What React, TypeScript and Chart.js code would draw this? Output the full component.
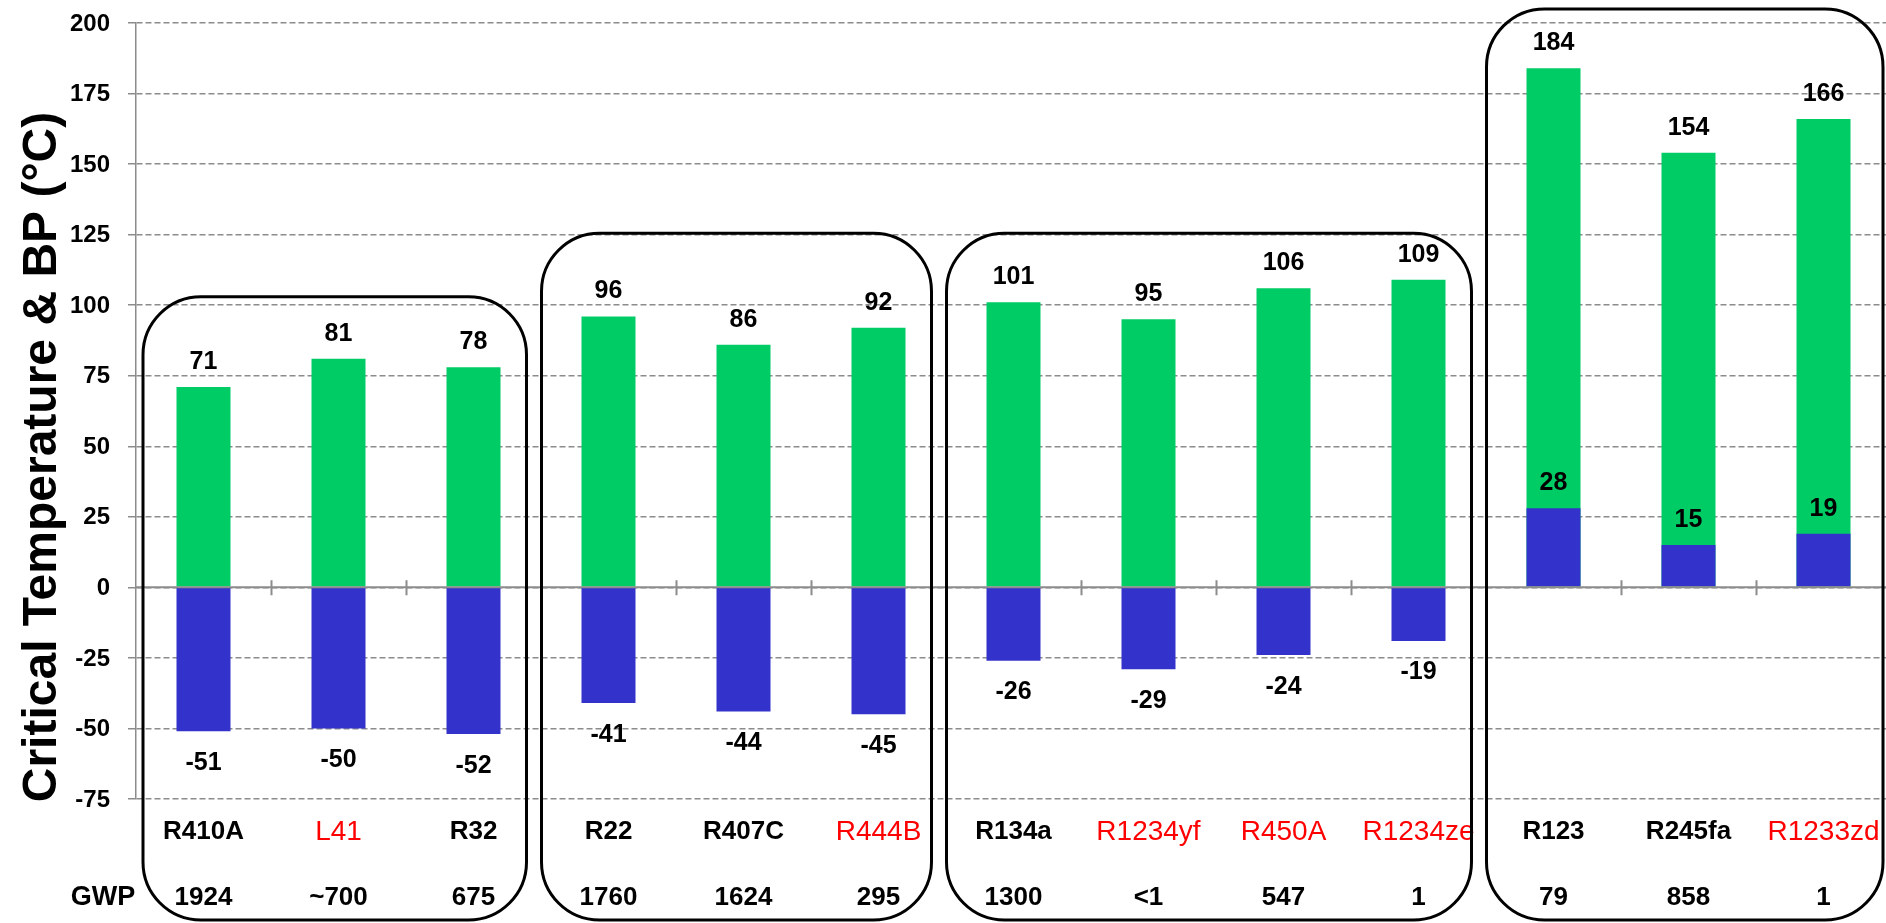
import React, { useEffect, useRef } from "react";
import { Chart, registerables } from "chart.js";

Chart.register(...registerables);

// ---- data ----
const categories = ["R410A", "L41", "R32", "R22", "R407C", "R444B", "R134a", "R1234yf", "R450A", "R1234ze", "R123", "R245fa", "R1233zd"];
const criticalTemp = [71, 81, 78, 96, 86, 92, 101, 95, 106, 109, 184, 154, 166];
const boilingPoint = [-51, -50, -52, -41, -44, -45, -26, -29, -24, -19, 28, 15, 19];
const gwpLabels = ["1924", "~700", "675", "1760", "1624", "295", "1300", "<1", "547", "1", "79", "858", "1"];
const isNewRefrigerant = [false, true, false, false, false, true, false, true, true, true, false, false, true];
const groupStart = [0, 3, 6, 10];
const groupEnd = [2, 5, 9, 12];
const groupTopValue = [103, 125.5, 125.5, 205];
const yTitle = "Critical Temperature & BP (°C)";
const gwpTitle = "GWP";

const FONT = '"Liberation Sans", Arial, Helvetica, sans-serif';
const GREEN = "#00CC66";
const BLUE = "#3333CC";
const GRID = "#8c8c8c";

const overlayPlugin = {
  id: "overlay",
  afterDatasetsDraw(chart: any) {
    const { ctx, chartArea: a, scales } = chart;
    const x = scales.x;
    const y = scales.y;
    const n = categories.length;
    const slot = (a.right - a.left) / n;
    const boundary = (k: number) => x.getPixelForValue(k) - slot / 2;
    const y0 = y.getPixelForValue(0);
    ctx.save();
    ctx.setLineDash([]);
    // zero axis line with tick marks
    ctx.strokeStyle = GRID;
    ctx.lineWidth = 2;
    ctx.beginPath();
    ctx.moveTo(a.left, y0);
    ctx.lineTo(a.right, y0);
    for (let k = 1; k < n; k++) {
      const bx = Math.round(boundary(k)) + 0.5;
      ctx.moveTo(bx, y0 - 7);
      ctx.lineTo(bx, y0 + 8);
    }
    ctx.stroke();

    // y tick labels
    ctx.fillStyle = "#000";
    ctx.textAlign = "right";
    ctx.textBaseline = "middle";
    ctx.font = `bold 24px ${FONT}`;
    for (const t of y.ticks) {
      ctx.fillText(String(t.value), a.left - 26, y.getPixelForValue(t.value) + 1);
    }

    // value labels
    ctx.textAlign = "center";
    ctx.textBaseline = "alphabetic";
    ctx.font = `bold 25px ${FONT}`;
    for (let i = 0; i < n; i++) {
      const cx = x.getPixelForValue(i);
      const gy = y.getPixelForValue(criticalTemp[i]);
      ctx.fillText(String(criticalTemp[i]), cx, gy - 18);
      const bv = boilingPoint[i];
      const by = y.getPixelForValue(bv);
      ctx.fillText(String(bv), cx, bv < 0 ? by + 38.5 : by - 18);
    }

    // category labels and GWP row
    ctx.textBaseline = "middle";
    const catY = a.bottom + 33;
    const gwpY = a.bottom + 99;
    for (let i = 0; i < n; i++) {
      const cx = x.getPixelForValue(i);
      if (isNewRefrigerant[i]) {
        ctx.fillStyle = "#FF0000";
        ctx.font = `28px ${FONT}`;
      } else {
        ctx.fillStyle = "#000";
        ctx.font = `bold 26px ${FONT}`;
      }
      ctx.fillText(categories[i], cx, catY);
      ctx.fillStyle = "#000";
      ctx.font = `bold 26px ${FONT}`;
      ctx.fillText(gwpLabels[i], cx, gwpY);
    }
    ctx.font = `bold 27px ${FONT}`;
    ctx.fillText(gwpTitle, 103, gwpY);

    // y-axis title
    ctx.save();
    ctx.translate(43, (a.top + a.bottom) / 2 + 46);
    ctx.rotate(-Math.PI / 2);
    ctx.font = `bold 48px ${FONT}`;
    ctx.fillText(yTitle, 0, 0);
    ctx.restore();

    // rounded group boxes
    ctx.strokeStyle = "#000";
    ctx.lineWidth = 3;
    const bottom = a.bottom + 121;
    for (let g = 0; g < groupStart.length; g++) {
      let left = boundary(groupStart[g]) + 0.5;
      if (groupStart[g] === 0) left = a.left + 7;
      let right = boundary(groupEnd[g] + 1) - 14.5;
      if (groupEnd[g] === n - 1) right = 1883;
      const top = y.getPixelForValue(groupTopValue[g]);
      ctx.beginPath();
      (ctx as any).roundRect(left, top, right - left, bottom - top, 58);
      ctx.stroke();
    }
    ctx.restore();
  },
};

export default function App() {
  const ref = useRef<HTMLCanvasElement | null>(null);
  useEffect(() => {
    document.body.style.margin = "0";
    const canvas = ref.current!;
    const chart = new Chart(canvas, {
      type: "bar",
      data: {
        labels: categories,
        datasets: [
          {
            label: "Critical Temperature",
            data: criticalTemp,
            backgroundColor: GREEN,
            grouped: false,
            order: 1,
            barPercentage: 0.4,
            categoryPercentage: 1,
          } as any,
          {
            label: "Boiling Point",
            data: boilingPoint,
            backgroundColor: BLUE,
            grouped: false,
            order: 0,
            barPercentage: 0.4,
            categoryPercentage: 1,
          } as any,
        ],
      },
      options: {
        animation: false,
        responsive: false,
        devicePixelRatio: 1,
        layout: { padding: { top: 23, bottom: 124, left: 0, right: 0 } },
        plugins: { legend: { display: false }, tooltip: { enabled: false }, title: { display: false } },
        scales: {
          x: { display: false, offset: true },
          y: {
            min: -75,
            max: 200,
            ticks: {
              stepSize: 25,
              display: false,
            },
            grid: {
              color: GRID,
              lineWidth: 1.5,
              drawTicks: true,
              tickLength: 8,
              tickColor: GRID,
              tickBorderDash: [],
              tickWidth: 1.5,
            } as any,
            border: { display: true, color: GRID, width: 1.5, dash: [6, 3] } as any,
            afterFit: (scale: any) => {
              scale.width = 136;
            },
          },
        },
      },
      plugins: [overlayPlugin],
    } as any);
    return () => chart.destroy();
  }, []);
  return (
    <div style={{ position: "absolute", left: 0, top: 0, width: 1886, height: 923, overflow: "hidden", background: "#fff" }}>
      <canvas ref={ref} width={1891} height={923} style={{ width: 1891, height: 923, display: "block" }} />
    </div>
  );
}
